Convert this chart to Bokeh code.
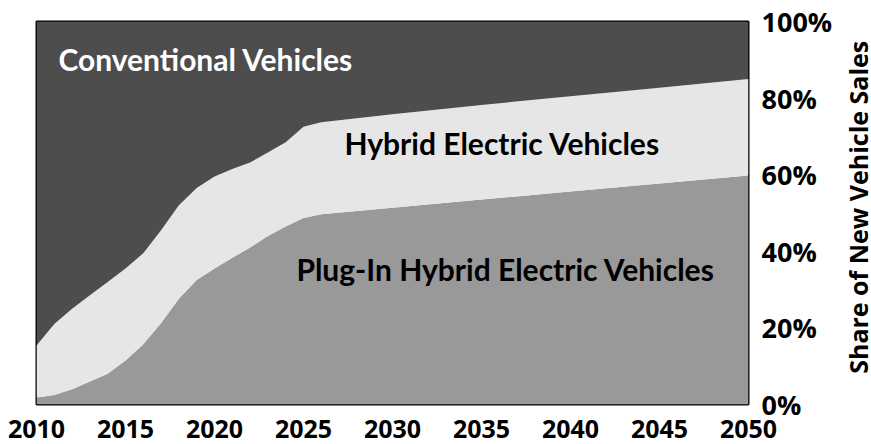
import math
from bokeh.plotting import figure
from bokeh.layouts import row
from bokeh.models import ColumnDataSource, FixedTicker, PrintfTickFormatter, Range1d, Label
from bokeh.embed import file_html
from bokeh.resources import INLINE

years = [2010, 2011, 2012, 2013, 2014, 2015, 2016, 2017, 2018, 2019, 2020,
         2021, 2022, 2023, 2024, 2025, 2026, 2030, 2035, 2040, 2045, 2050]
phev = [1.8, 2.5, 4.0, 6.0, 8.0, 11.5, 15.7, 21.3, 27.6, 32.5, 35.5,
        38.3, 41.0, 44.0, 46.5, 48.7, 49.7, 51.4, 53.5, 55.6, 57.7, 59.8]
hev = [13.6, 18.5, 21.0, 22.5, 24.0, 24.0, 23.8, 24.2, 24.4, 24.0, 24.0,
       23.2, 22.2, 21.8, 22.0, 23.8, 24.0, 24.4, 24.7, 24.9, 25.0, 25.2]
conv = [84.6, 79.0, 75.0, 71.5, 68.0, 64.5, 60.5, 54.5, 48.0, 43.5, 40.5,
        38.5, 36.8, 34.2, 31.5, 27.5, 26.3, 24.2, 21.8, 19.5, 17.3, 15.0]
x_ticks = [2010, 2015, 2020, 2025, 2030, 2035, 2040, 2045, 2050]
y_ticks = [0, 20, 40, 60, 80, 100]
series_names = ["Plug-In Hybrid Electric Vehicles", "Hybrid Electric Vehicles", "Conventional Vehicles"]
colors = ["#999999", "#e6e6e6", "#4d4d4d"]
y_title = "Share of New Vehicle Sales"

source = ColumnDataSource(dict(year=years, phev=phev, hev=hev, conv=conv))

p = figure(width=835, height=444, output_backend="svg", toolbar_location=None,
           x_range=Range1d(2010, 2050), y_range=Range1d(0, 100),
           y_axis_location="right",
           min_border_left=36, min_border_top=21, min_border_bottom=40, min_border_right=86)
p.varea_stack(stackers=["phev", "hev", "conv"], x="year", color=colors, source=source)

p.grid.visible = False
p.outline_line_color = "black"
p.outline_line_width = 2
p.background_fill_color = "white"
p.border_fill_color = "white"

TICK_FONT = "Open Sans"
for ax in (p.xaxis[0], p.yaxis[0]):
    ax.axis_line_color = None
    ax.major_tick_line_color = None
    ax.minor_tick_line_color = None
    ax.major_tick_out = 0
    ax.major_tick_in = 0
    ax.major_label_text_font = TICK_FONT
    ax.major_label_text_font_style = "bold"
    ax.major_label_text_color = "black"

p.xaxis.ticker = FixedTicker(ticks=x_ticks)
p.xaxis.major_label_text_font_size = "25px"
p.xaxis.major_label_standoff = 15
p.yaxis.ticker = FixedTicker(ticks=y_ticks)
p.yaxis.formatter = PrintfTickFormatter(format="%d%%")
p.yaxis.major_label_text_font_size = "27px"
p.yaxis.major_label_standoff = 13

LABEL_FONT = "Lato"
for name, xpos, ypos, col in [(series_names[2], 2011.23, 90.1, "white"),
                              (series_names[1], 2027.3, 68.2, "black"),
                              (series_names[0], 2024.6, 35.5, "black")]:
    p.add_layout(Label(x=xpos, y=ypos, text=name, text_color=col,
                       text_font=LABEL_FONT, text_font_style="bold", text_font_size="30px",
                       text_baseline="alphabetic"))

# narrow strip holding the vertical axis title (reads bottom-to-top)
side = figure(width=36, height=444, output_backend="svg", toolbar_location=None,
              x_range=Range1d(0, 1), y_range=Range1d(0, 1),
              x_axis_location=None, y_axis_location=None, min_border=0)
side.grid.visible = False
side.outline_line_color = None
side.background_fill_color = "white"
side.border_fill_color = "white"
side.add_layout(Label(x=0.63, y=0.515, text=y_title, angle=math.pi / 2,
                      text_font=TICK_FONT, text_font_style="bold", text_font_size="25px",
                      text_color="black", text_align="center", text_baseline="middle"))

layout = row(p, side)
open("out.html", "w").write(file_html(layout, INLINE))
